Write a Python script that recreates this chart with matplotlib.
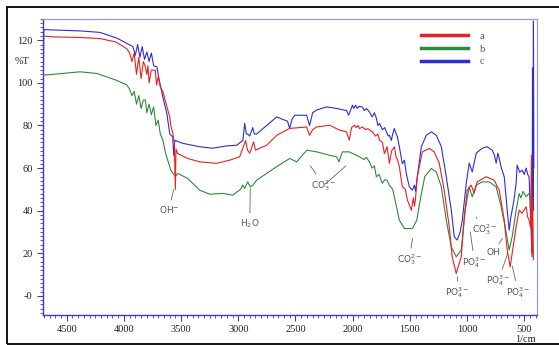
import numpy as np
import matplotlib
matplotlib.use('Agg')
import matplotlib.pyplot as plt
from matplotlib.ticker import MultipleLocator, FixedLocator, FixedFormatter
from matplotlib.patches import Rectangle

# dane - widma FTIR (liczba falowa [1/cm], %T)
wn_a = [4707, 4620, 4384, 4209, 4070, 3974, 3950, 3930, 3910, 3890, 3870, 3850, 3830, 3812,
        3800, 3790, 3780, 3760, 3726, 3715, 3700, 3682, 3660, 3640, 3620, 3599, 3590, 3573,
        3560, 3550, 3545, 3530, 3442, 3337, 3189, 3075, 2988, 2936, 2920, 2900, 2866, 2850,
        2752, 2664, 2637, 2551, 2403, 2377, 2350, 2316, 2202, 2115, 2054, 2030, 2010, 1985,
        1970, 1955, 1940, 1915, 1890, 1870, 1828, 1800, 1780, 1766, 1740, 1723, 1700, 1679,
        1660, 1636, 1620, 1609, 1592, 1566, 1540, 1522, 1487, 1470, 1460, 1452, 1435, 1391,
        1330, 1287, 1243, 1200, 1156, 1130, 1095, 1051, 1025, 999, 964, 938, 912, 833, 763,
        719, 675, 649, 623, 606, 571, 545, 519, 484, 470, 458, 445, 438, 432, 426, 420]
T_a = [122, 121.6, 121.3, 120.8, 119.2, 116, 114, 110, 114, 104, 112, 102, 110, 107.5,
       104, 108, 100, 106, 106, 99, 103, 98, 96, 92, 88, 84, 80, 76.4,
       71.6, 50, 69, 66.8, 64.5, 62.9, 62.2, 63.7, 65.3, 73, 68.4, 67, 72.3, 68.4,
       70.7, 75.4, 76.2, 78.6, 79.3, 75.4, 78, 79.3, 80.1, 77.8, 77, 73.1, 79, 80.1,
       79, 80, 78.5, 79.3, 78, 78.5, 77, 75, 76, 73.1, 72, 66.8, 70, 62.2,
       68, 70, 65, 64, 60.6, 51.2, 50, 45, 40.2, 46, 42, 45, 56, 67.6,
       69.2, 67.6, 62.2, 49.6, 32.4, 18.3, 10.5, 18.3, 37.1, 49.6, 52, 48.2, 53.5, 55.9, 54.3,
       49.6, 35.5, 21.5, 13.6, 19.9, 32.4, 40.2, 38.8, 41.8, 37, 35.5, 32, 66, 20, 45, 17]

wn_b = [4707, 4620, 4384, 4235, 4070, 3974, 3950, 3930, 3910, 3890, 3870, 3850, 3830, 3812,
        3800, 3780, 3760, 3740, 3720, 3700, 3682, 3660, 3635, 3590, 3550, 3530, 3442, 3337,
        3250, 3137, 3050, 3010, 2980, 2962, 2945, 2918, 2895, 2870, 2840, 2666, 2550, 2490,
        2440, 2400, 2316, 2202, 2141, 2120, 2090, 2030, 1941, 1900, 1880, 1854, 1830, 1810,
        1793, 1770, 1741, 1720, 1700, 1680, 1650, 1636, 1592, 1548, 1478, 1440, 1410, 1370,
        1313, 1269, 1225, 1182, 1138, 1095, 1051, 1016, 981, 955, 920, 868, 807, 746, 702,
        667, 632, 606, 571, 545, 530, 510, 484, 460, 440, 420]
T_b = [103.6, 104, 105.2, 104.4, 101.3, 99, 97, 94, 96, 90, 94, 88, 92, 92,
       86, 90, 85, 88.7, 80, 82.5, 76, 73.1, 66.8, 59, 55.9, 57.5, 55.1, 49.6,
       47.7, 48.1, 47.3, 48.8, 50, 52, 50.4, 53.5, 51.2, 52, 54.3, 60.6, 64.5, 62.9,
       66, 68.4, 67.6, 66, 65.3, 62.9, 67.6, 67.6, 65.3, 64, 65, 62.9, 60, 61,
       55.9, 57, 52.8, 54.5, 54.3, 52, 50, 46.5, 35.5, 31.6, 31.6, 35.5, 45, 56,
       59.8, 58.2, 51.2, 35.5, 23, 18.3, 21.5, 40.2, 51.2, 46.5, 52, 53.5, 53.5, 51.2, 41.8,
       32.4, 21.5, 27.7, 40.2, 48, 46, 49, 46.5, 48, 45.7, 46]

wn_c = [4706, 4700, 4384, 4209, 4061, 3974, 3921, 3900, 3880, 3860, 3840, 3820, 3799, 3780,
        3760, 3740, 3712, 3690, 3660, 3625, 3599, 3573, 3565, 3555, 3486, 3337, 3224, 3102,
        3013, 2960, 2944, 2930, 2918, 2900, 2874, 2860, 2839, 2752, 2664, 2637, 2570, 2551,
        2530, 2507, 2403, 2377, 2350, 2316, 2229, 2141, 2054, 2035, 2020, 2002, 1990, 1975,
        1960, 1945, 1915, 1900, 1880, 1854, 1830, 1810, 1793, 1780, 1766, 1740, 1720, 1705,
        1690, 1679, 1662, 1650, 1636, 1620, 1609, 1592, 1566, 1548, 1530, 1505, 1478, 1460,
        1450, 1435, 1420, 1400, 1356, 1313, 1269, 1225, 1182, 1138, 1112, 1086, 1060, 1042,
        1007, 981, 955, 920, 868, 824, 781, 760, 746, 730, 700, 675, 649, 632, 620, 606,
        590, 571, 562, 540, 519, 500, 484, 470, 458, 440, 432, 428, 424, 420, 416]
T_c = [94, 125, 124.4, 123.7, 121, 118.5, 117, 113, 118, 112, 117, 111, 114.5, 110,
       114, 108, 107.5, 101, 93.4, 85.7, 76, 74.6, 66, 73, 71.6, 70, 69.3, 70.4,
       70.7, 73, 81, 76, 76, 75, 79, 76, 76, 80, 84, 83.4, 82, 78.6,
       83, 84.8, 84.8, 80, 86, 87.2, 88.7, 88, 87, 84.8, 87, 89.5, 88, 89.5,
       88, 89, 88.7, 87, 88, 86.4, 84, 86, 83.4, 80, 81, 78, 79, 77,
       75, 75.4, 73, 76, 78.6, 76, 74.6, 70, 62, 63.7, 57, 51.2, 49.6, 52,
       49, 55.9, 62, 70, 75.4, 77, 75.4, 70, 55.9, 40.2, 27.7, 26.2, 30, 35.5,
       52.9, 62.3, 58.2, 67, 69.3, 70, 68.4, 66, 62.3, 67, 60, 55.9, 40.2, 30.8, 36, 40.2,
       45, 52.9, 61.4, 58, 59, 57, 60, 57, 55.9, 30, 18.3, 107, 40, 129, 60]

labels = ['a', 'b', 'c']
y_ticks = [0, 20, 40, 60, 80, 100, 120]
y_ticklabels = ['-0', '20', '40', '60', '80', '100', '120']
x_ticks = [4500, 4000, 3500, 3000, 2500, 2000, 1500, 1000, 500]

# adnotacje pasm: (tekst, punkt, położenie tekstu)
bands = [
    (r'OH$^{-}$', (3565, 50), (3605, 40.5)),
    (r'H$_2$O', (2895, 50.5), (2900, 34)),
    (r'CO$_3^{2-}$', (2370, 61), (2250, 52)),
    ('', (2060, 61), (2250, 52)),
    (r'CO$_3^{2-}$', (1477, 27), (1505, 17)),
    (r'PO$_4^{3-}$', (1085, 9), (1085, 1.5)),
    (r'PO$_4^{3-}$', (972, 30), (935, 15.8)),
    (r'CO$_3^{2-}$', (920, 37), (850, 31)),
    ('OH', (690, 27), (770, 20.5)),
    (r'PO$_4^{3-}$', (645, 20), (727, 7)),
    (r'PO$_4^{3-}$', (605, 14), (553, 1.7)),
]

#wykres
fig = plt.figure(figsize=(5.59, 3.45), dpi=100)
ax = fig.add_axes([0.077, 0.087, 0.884, 0.858])

tick_col = '#3b3bc4'
serif = 'Liberation Serif'

ax.plot(wn_a, T_a, color='#e52222', lw=0.8, zorder=4)
ax.plot(wn_b, T_b, color='#2f8a3a', lw=0.8, zorder=3)
ax.plot(wn_c, T_c, color='#2e2ed0', lw=0.8, zorder=2)

ax.set_xlim(4707, 387)
ax.set_ylim(-9, 130)

ax.yaxis.set_major_locator(FixedLocator(y_ticks))
ax.yaxis.set_major_formatter(FixedFormatter(y_ticklabels))
ax.yaxis.set_minor_locator(MultipleLocator(2))
ax.xaxis.set_major_locator(FixedLocator(x_ticks))
ax.xaxis.set_minor_locator(MultipleLocator(50))

ax.tick_params(which='both', direction='out', color=tick_col, labelsize=7.5,
               labelcolor='#222222', top=False, right=False)
ax.tick_params(which='major', length=4, width=0.8)
ax.tick_params(which='minor', length=2.5, width=0.6)
for lab in ax.get_xticklabels() + ax.get_yticklabels():
    lab.set_family(serif)

for side in ['left', 'bottom']:
    ax.spines[side].set_color(tick_col)
    ax.spines[side].set_linewidth(1.0)
for side in ['top', 'right']:
    ax.spines[side].set_color('#9a9ad0')
    ax.spines[side].set_linewidth(0.9)

for text, xy, xytext in bands:
    ax.annotate(text, xy=xy, xytext=xytext, ha='center', va='center',
                fontsize=6.5, color='#555555',
                arrowprops=dict(arrowstyle='-', color='#666666', lw=0.6,
                                shrinkA=1, shrinkB=0))

leg = ax.legend(labels, loc='upper left', bbox_to_anchor=(0.745, 0.99),
                frameon=False, handlelength=4.6, handletextpad=1.1,
                labelspacing=0.35, prop={'family': serif, 'size': 7.5})
for line in leg.get_lines():
    line.set_linewidth(2.5)
for t in leg.get_texts():
    t.set_color('#555555')

fig.text(22 / 559, 1 - 62 / 345, '%T', family=serif, fontsize=7.5,
         ha='center', va='center', color='#222222')
fig.text(525 / 559, 0.016, '1/cm', family=serif, fontsize=7.5,
         ha='center', va='center', color='#222222')

# ramka wokół całego rysunku (prawa krawędź poza obrazem)
fig.patches.append(Rectangle((7 / 559, 1.5 / 345), 1.0, 1 - 8.5 / 345,
                             transform=fig.transFigure, fill=False,
                             edgecolor='black', lw=1.3))

fig.savefig('out.png', dpi=100)
